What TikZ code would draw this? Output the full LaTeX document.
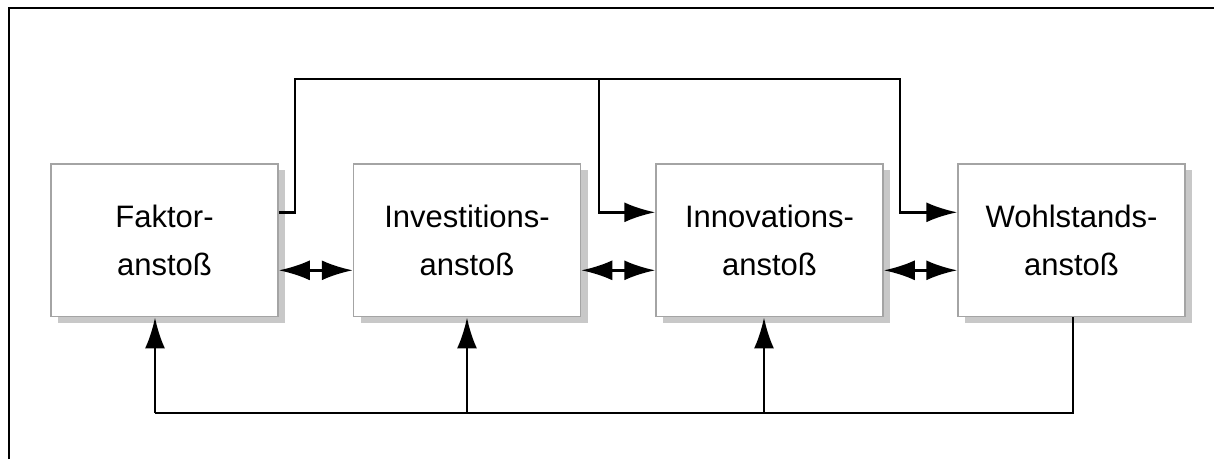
\documentclass[tikz,border=0pt]{standalone}
\usepackage{fontspec}
\setmainfont{Liberation Sans}
\usetikzlibrary{arrows.meta,shadows}
\definecolor{boxedge}{HTML}{A4A4A4}
\definecolor{shade}{HTML}{C8C8C8}
\tikzset{
  box/.style={draw=boxedge, line width=1.5pt, fill=white, minimum width=227pt, minimum height=152.7pt,
    inner sep=0pt, align=center, font=\fontsize{31}{48}\selectfont,
    drop shadow={shadow xshift=7pt, shadow yshift=-6pt, fill=shade, opacity=1}},
  conn/.style={draw=black, line width=2.7pt},
  arr/.style={conn, -{Latex[length=31pt,width=20pt]}},
  darr/.style={conn, {Latex[length=31pt,width=20pt]}-{Latex[length=31pt,width=20pt]}}
}
\begin{document}
\begin{tikzpicture}[x=1pt,y=-1pt]
\useasboundingbox (0,0) rectangle (1214,459);
\draw[line width=2pt] (8.5,459) -- (8.5,7.5) -- (1214,7.5);
\node[box] (F) at (164.5,240.3) {Faktor-\\anstoß};
\node[box] (I) at (467,240.3) {Investitions-\\anstoß};
\node[box] (N) at (769.5,240.3) {Innovations-\\anstoß};
\node[box] (W) at (1071.5,240.3) {Wohlstands-\\anstoß};
% top connectors
\coordinate (tl) at (295,79);
\coordinate (tm) at (599,79);
\coordinate (tr) at (900,79);
\draw[arr] ([yshift=28pt]F.east) -| (tl) -- (tr) |- ([yshift=28pt]W.west);
\draw[arr] (tm) |- ([yshift=28pt]N.west);
% double arrows
\draw[darr] ([yshift=-30pt]F.east) -- ([yshift=-30pt]I.west);
\draw[darr] ([yshift=-30pt]I.east) -- ([yshift=-30pt]N.west);
\draw[darr] ([yshift=-30pt]N.east) -- ([yshift=-30pt]W.west);
% bottom connectors
\coordinate (bl) at (155,413);
\draw[conn] ([xshift=1.5pt]W.south) |- (bl);
\draw[arr] (bl) -- (bl |- F.south);
\draw[arr] (I.south |- bl) -- (I.south);
\draw[arr] ([xshift=-5.5pt]N.south |- bl) -- ([xshift=-5.5pt]N.south);
\end{tikzpicture}
\end{document}
